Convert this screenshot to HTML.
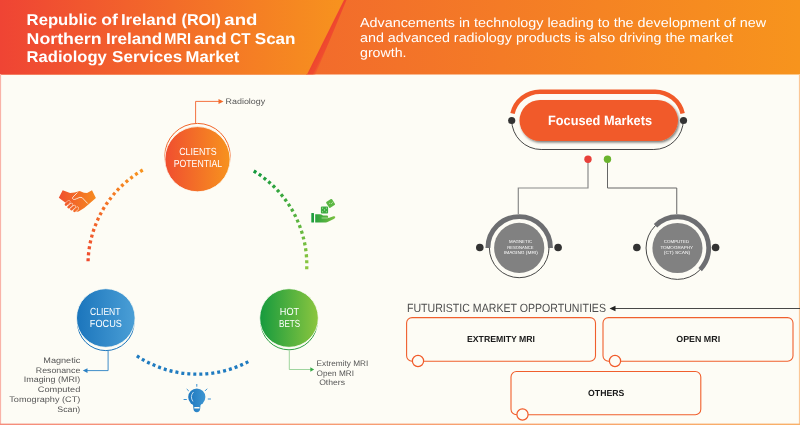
<!DOCTYPE html>
<html><head><meta charset="utf-8">
<style>
html,body{margin:0;padding:0;background:#fdfcf5;}
body{width:800px;height:425px;overflow:hidden;font-family:"Liberation Sans",sans-serif;}
svg{display:block;position:absolute;left:0;top:0;opacity:0.999;}
text{font-family:"Liberation Sans",sans-serif;text-rendering:geometricPrecision;}
</style></head><body>
<svg width="800" height="425" viewBox="0 0 800 425">
<defs>
<linearGradient id="gHdrL" x1="0" y1="0" x2="344" y2="0" gradientUnits="userSpaceOnUse"><stop offset="0" stop-color="#ef4434"/><stop offset="1" stop-color="#f7931e"/></linearGradient>
<linearGradient id="gHdrR" x1="300" y1="0" x2="800" y2="0" gradientUnits="userSpaceOnUse"><stop offset="0" stop-color="#f26a2c"/><stop offset="1" stop-color="#f7941d"/></linearGradient>
<linearGradient id="gBorder" x1="0" y1="0" x2="800" y2="0" gradientUnits="userSpaceOnUse"><stop offset="0" stop-color="#f58d7c"/><stop offset="1" stop-color="#f9b068"/></linearGradient>
<linearGradient id="gOr" x1="0" y1="0" x2="1" y2="0"><stop offset="0" stop-color="#f04e30"/><stop offset="1" stop-color="#f7931e"/></linearGradient>
<linearGradient id="gBl" x1="0" y1="0" x2="1" y2="0"><stop offset="0" stop-color="#1b75bc"/><stop offset="1" stop-color="#4b9fd6"/></linearGradient>
<linearGradient id="gGr" x1="0" y1="0" x2="1" y2="0"><stop offset="0" stop-color="#159a3e"/><stop offset="1" stop-color="#8cc63f"/></linearGradient>
<linearGradient id="gArcO" x1="88" y1="260" x2="142" y2="171" gradientUnits="userSpaceOnUse"><stop offset="0" stop-color="#ef4b2f"/><stop offset="1" stop-color="#f7931e"/></linearGradient>
<linearGradient id="gArcG" x1="255" y1="171" x2="307" y2="268" gradientUnits="userSpaceOnUse"><stop offset="0" stop-color="#159a3e"/><stop offset="1" stop-color="#8cc63f"/></linearGradient>
<linearGradient id="gStripe" x1="307" y1="74.5" x2="315" y2="78.5" gradientUnits="userSpaceOnUse"><stop offset="0" stop-color="#ee452f"/><stop offset="0.55" stop-color="#ef4a2e" stop-opacity="0.95"/><stop offset="1" stop-color="#f15a2d" stop-opacity="0"/></linearGradient>
<filter id="sh" x="-10%" y="-20%" width="125%" height="150%"><feDropShadow dx="1.2" dy="1.6" stdDeviation="0.9" flood-color="#000" flood-opacity="0.5"/></filter>
</defs>

<!-- background -->
<rect width="800" height="425" fill="#fdfcf5"/>
<!-- header -->
<rect x="0" y="0" width="800" height="74.5" fill="url(#gHdrR)"/>
<polygon points="306,74.5 315.5,74.5 346.5,0 343,0" fill="url(#gStripe)"/>
<polygon points="0,0 344,0 307,74.5 0,74.5" fill="url(#gHdrL)"/>
<!-- page border -->
<rect x="0" y="74" width="1.1" height="351" fill="#f9b3a8"/>
<rect x="798.9" y="74" width="1.1" height="351" fill="#fbc796"/>
<rect x="0" y="423.6" width="800" height="1.4" fill="url(#gBorder)"/>

<!-- header text -->
<g fill="#fff" font-weight="bold" font-size="15.8">
<text x="26.60" y="25.3" textLength="70.40" lengthAdjust="spacingAndGlyphs">Republic</text>
<text x="101.25" y="25.3" textLength="16.60" lengthAdjust="spacingAndGlyphs">of</text>
<text x="120.90" y="25.3" textLength="55.65" lengthAdjust="spacingAndGlyphs">Ireland</text>
<text x="181.50" y="25.3" textLength="39.50" lengthAdjust="spacingAndGlyphs">(ROI)</text>
<text x="224.35" y="25.3" textLength="33.05" lengthAdjust="spacingAndGlyphs">and</text>
<text x="26.60" y="43.8" textLength="74.95" lengthAdjust="spacingAndGlyphs">Northern</text>
<text x="106.10" y="43.8" textLength="56.20" lengthAdjust="spacingAndGlyphs">Ireland</text>
<text x="164.30" y="43.8" textLength="26.70" lengthAdjust="spacingAndGlyphs">MRI</text>
<text x="194.10" y="43.8" textLength="32.80" lengthAdjust="spacingAndGlyphs">and</text>
<text x="230.30" y="43.8" textLength="20.20" lengthAdjust="spacingAndGlyphs">CT</text>
<text x="254.75" y="43.8" textLength="40.80" lengthAdjust="spacingAndGlyphs">Scan</text>
<text x="26.60" y="62.2" textLength="80.15" lengthAdjust="spacingAndGlyphs">Radiology</text>
<text x="112.10" y="62.2" textLength="70.10" lengthAdjust="spacingAndGlyphs">Services</text>
<text x="185.60" y="62.2" textLength="53.70" lengthAdjust="spacingAndGlyphs">Market</text>
</g>
<g fill="#fff" font-size="13">
<text x="360" y="26.5" textLength="406" lengthAdjust="spacingAndGlyphs">Advancements in technology leading to the development of new</text>
<text x="360" y="41.5" textLength="373" lengthAdjust="spacingAndGlyphs">and advanced radiology products is also driving the market</text>
<text x="360" y="56.5" textLength="46.5" lengthAdjust="spacingAndGlyphs">growth.</text>
</g>

<!-- dotted arcs -->
<g fill="none" stroke-width="3.3" stroke-dasharray="3 3">
<path d="M 88.06 261.23 A 109.4 109.4 0 0 1 142.87 169.96" stroke="url(#gArcO)"/>
<path d="M 253.75 171.03 A 109.4 109.4 0 0 1 306.69 269.67" stroke="url(#gArcG)"/>
<path d="M 136.86 355.92 A 109.4 109.4 0 0 0 248.59 361.48" stroke="#1f7bc0"/>
</g>

<!-- orange circle -->
<circle cx="197.5" cy="156.1" r="32.7" fill="none" stroke="#f2652a" stroke-width="1"/>
<circle cx="197.5" cy="159.2" r="32.6" fill="url(#gOr)" stroke="#fdfcf5" stroke-width="0.8"/>
<path d="M 195.6 123.5 V 101.4 H 219" fill="none" stroke="#f2622b" stroke-width="0.9"/>
<polygon points="218.5,98.9 223.5,101.4 218.5,103.9" fill="#f26a2a"/>
<g fill="#fff" font-size="10.3" text-anchor="middle">
<text x="197.95" y="154.8" textLength="37.6" lengthAdjust="spacingAndGlyphs">CLIENTS</text>
<text x="197.9" y="166.9" textLength="48.4" lengthAdjust="spacingAndGlyphs">POTENTIAL</text>
</g>
<text x="225.6" y="104.2" font-size="8" fill="#555" textLength="39.6" lengthAdjust="spacingAndGlyphs">Radiology</text>

<!-- blue circle -->
<circle cx="105.8" cy="322.3" r="28.3" fill="none" stroke="#1b75bc" stroke-width="1"/>
<circle cx="105.8" cy="318.0" r="29.3" fill="url(#gBl)" stroke="#fdfcf5" stroke-width="0.8"/>
<path d="M 108.1 351 V 370.6 H 87" fill="none" stroke="#2a80c4" stroke-width="0.9"/>
<polygon points="87.5,368.2 82.8,370.6 87.5,373" fill="#2a80c4"/>
<g fill="#fff" font-size="10.3" text-anchor="middle">
<text x="105.3" y="314.9" textLength="30.4" lengthAdjust="spacingAndGlyphs">CLIENT</text>
<text x="105.85" y="326.9" textLength="32" lengthAdjust="spacingAndGlyphs">FOCUS</text>
</g>
<g fill="#555" font-size="8" text-anchor="end">
<text x="80.3" y="362.9" textLength="37" lengthAdjust="spacingAndGlyphs">Magnetic</text>
<text x="80.3" y="372.7" textLength="44.5" lengthAdjust="spacingAndGlyphs">Resonance</text>
<text x="80.3" y="382.4" textLength="56.5" lengthAdjust="spacingAndGlyphs">Imaging (MRI)</text>
<text x="80.3" y="392.1" textLength="42.5" lengthAdjust="spacingAndGlyphs">Computed</text>
<text x="80.3" y="401.8" textLength="71" lengthAdjust="spacingAndGlyphs">Tomography (CT)</text>
<text x="80.3" y="411.5" textLength="23" lengthAdjust="spacingAndGlyphs">Scan)</text>
</g>

<!-- green circle -->
<circle cx="289" cy="321.5" r="28.3" fill="none" stroke="#2ea043" stroke-width="1"/>
<circle cx="289" cy="318.0" r="29.3" fill="url(#gGr)" stroke="#fdfcf5" stroke-width="0.8"/>
<path d="M 289.3 350.5 V 369.5 H 311" fill="none" stroke="#6cc070" stroke-width="0.65"/>
<polygon points="310.3,367.3 314.2,369.5 310.3,371.7" fill="#3aaa48"/>
<g fill="#fff" font-size="10.3" text-anchor="middle">
<text x="289.45" y="315.1" textLength="19.3" lengthAdjust="spacingAndGlyphs">HOT</text>
<text x="289.65" y="327.1" textLength="21.1" lengthAdjust="spacingAndGlyphs">BETS</text>
</g>
<g fill="#555" font-size="8">
<text x="316.6" y="366.3" textLength="51.7" lengthAdjust="spacingAndGlyphs">Extremity MRI</text>
<text x="316.6" y="375.8" textLength="37.4" lengthAdjust="spacingAndGlyphs">Open MRI</text>
<text x="319.2" y="385" textLength="25.8" lengthAdjust="spacingAndGlyphs">Others</text>
</g>

<!-- ICONS placeholder -->
<g id="icons">
<!-- handshake -->
<linearGradient id="gHs" x1="59" y1="0" x2="96" y2="0" gradientUnits="userSpaceOnUse"><stop offset="0" stop-color="#f0502f"/><stop offset="1" stop-color="#f68b1f"/></linearGradient>
<path d="M 62.7 190.2 L 70.1 193.1 L 74.7 192.4 L 79.7 191.1 L 83.9 192.7 L 87.1 193.1 L 92 190.2 L 95.9 198 L 88.1 204.7 L 84.2 207.9 L 78.6 211.4 L 76.5 211.8 L 70.5 207 L 65.2 202.6 L 58.8 197.65 Z" fill="url(#gHs)"/>
<g stroke="#fdfcf5" stroke-width="3.4" stroke-linecap="round">
<line x1="66.0" y1="204.5" x2="68.7" y2="202.0"/>
<line x1="68.6" y1="207.2" x2="71.4" y2="204.6"/>
<line x1="71.4" y1="209.2" x2="74.2" y2="206.6"/>
<line x1="74.5" y1="210.9" x2="77.3" y2="208.3"/>
</g>
<g stroke="url(#gHs)" stroke-width="2.6" stroke-linecap="round">
<line x1="66.0" y1="204.5" x2="68.7" y2="202.0"/>
<line x1="68.6" y1="207.2" x2="71.4" y2="204.6"/>
<line x1="71.4" y1="209.2" x2="74.2" y2="206.6"/>
<line x1="74.5" y1="210.9" x2="77.3" y2="208.3"/>
</g>
<g stroke="#fdfcf5" stroke-width="0.8" fill="none" stroke-linecap="round" stroke-linejoin="round">
<path d="M 77.2 192.8 L 72.8 197.2 Q 71.9 198.7 73.3 199.3 Q 74.8 199.8 76.2 198.9 L 79.9 197.3 L 82.2 197.7 L 87.4 203.2"/>
</g>
<!-- dice hand -->
<linearGradient id="gDh" x1="311" y1="0" x2="336" y2="0" gradientUnits="userSpaceOnUse"><stop offset="0" stop-color="#199b3d"/><stop offset="1" stop-color="#7fc241"/></linearGradient>
<rect x="311.3" y="213" width="2.7" height="9.6" rx="0.5" fill="#1f9e3e"/>
<path d="M 315.2 214.3 H 319.5 Q 321.5 214.3 323 215.4 L 327.3 215.6 Q 328.6 216 328 217.4 L 328.6 217.9 L 333.5 216.3 Q 335.3 216 335.3 217.3 Q 335 218.3 333.8 219 L 327 222.2 Q 325.5 222.7 324 222.6 H 315.2 Z" fill="url(#gDh)"/>
<path d="M 321.6 218 H 327.9" stroke="#a8dc98" stroke-width="0.9" fill="none"/>
<rect x="320.9" y="206.4" width="7.2" height="7" rx="1" fill="#3dab42"/>
<g fill="#c8ecb4"><circle cx="322.6" cy="208.1" r="0.55"/><circle cx="326.4" cy="208.1" r="0.55"/><circle cx="324.5" cy="209.9" r="0.55"/><circle cx="322.6" cy="211.7" r="0.55"/><circle cx="326.4" cy="211.7" r="0.55"/></g>
<rect x="327.1" y="199.9" width="7" height="7" rx="1" fill="#5cb744" transform="rotate(-32 330.6 203.4)"/>
<g fill="#c8ecb4"><circle cx="329.7" cy="203.2" r="0.5"/><circle cx="331.4" cy="203.6" r="0.5"/><circle cx="332.6" cy="202.2" r="0.5"/></g>
<!-- bulb -->
<linearGradient id="gBu" x1="188" y1="0" x2="206" y2="0" gradientUnits="userSpaceOnUse"><stop offset="0" stop-color="#1c76bd"/><stop offset="1" stop-color="#3f97d3"/></linearGradient>
<circle cx="196.8" cy="397.1" r="8.6" fill="url(#gBu)"/>
<path d="M 192.9 403 H 200.7 L 200.2 408.5 Q 199.9 412.3 196.8 412.3 Q 193.7 412.3 193.4 408.5 Z" fill="url(#gBu)"/>
<rect x="194.2" y="406.9" width="5.4" height="1.7" rx="0.5" fill="#fdfcf5"/>
<path d="M 193.2 392.3 Q 189.6 396.5 192.7 401.1" stroke="#e6f1fa" stroke-width="0.8" fill="none" stroke-linecap="round"/>
<g stroke="#3a8fd0" stroke-width="1" stroke-linecap="round">
<line x1="196.8" y1="384.4" x2="196.8" y2="386.3"/>
<line x1="187.0" y1="389.3" x2="188.5" y2="390.7"/>
<line x1="206.9" y1="389.0" x2="205.3" y2="390.6"/>
<line x1="184" y1="399.5" x2="186.4" y2="399.5"/>
<line x1="208.2" y1="399" x2="210.5" y2="399"/>
</g>
</g>

<!-- Focused Markets -->
<path d="M 512.51 113.5 A 28.25 28.25 0 0 1 540 91.75 H 655.15 A 28.25 28.25 0 0 1 682.64 113.5" fill="none" stroke="#f15a29" stroke-width="4.5"/>
<path d="M 511.7 120 A 29.5 29.5 0 0 0 541.2 149.5 H 653.8 A 29.5 29.5 0 0 0 683.3 120" fill="none" stroke="#333" stroke-width="0.9"/>
<rect x="519.5" y="100" width="158.5" height="41" rx="20.5" fill="#f15a29" filter="url(#sh)"/>
<circle cx="511.7" cy="120.5" r="3.6" fill="#333"/>
<circle cx="683.5" cy="120.5" r="3.6" fill="#333"/>
<text x="548" y="124.8" font-size="13.4" font-weight="bold" fill="#fff" textLength="104" lengthAdjust="spacingAndGlyphs">Focused Markets</text>

<!-- connectors -->
<path d="M 588 162 V 188 H 518.3 V 214" fill="none" stroke="#8a8a8a" stroke-width="1.2"/>
<path d="M 607.5 162 V 188 H 676.75 V 214" fill="none" stroke="#666" stroke-width="1"/>
<circle cx="588" cy="159.3" r="3.7" fill="#e8403a"/>
<circle cx="607.5" cy="159.3" r="3.7" fill="#6ab42d"/>

<!-- MRI circle -->
<path d="M 489.4 247.9 A 29.8 29.8 0 0 0 549 247.9" fill="none" stroke="#333" stroke-width="0.9"/>
<path d="M 487.9 247.9 A 31.3 31.3 0 0 1 550.5 247.9" fill="none" stroke="#6d6e71" stroke-width="4.9"/>
<circle cx="519.2" cy="247.9" r="25.1" fill="#818181"/>
<circle cx="479.8" cy="247.5" r="3.8" fill="#333"/>
<circle cx="558.1" cy="247.5" r="3.8" fill="#333"/>
<g fill="#fff" font-size="4.4" text-anchor="middle">
<text x="520.55" y="243" textLength="23.1" lengthAdjust="spacingAndGlyphs">MAGNETIC</text>
<text x="520.45" y="248.6" textLength="26.2" lengthAdjust="spacingAndGlyphs">RESONANCE</text>
<text x="520.85" y="254.3" textLength="33.9" lengthAdjust="spacingAndGlyphs">IMAGING (MRI)</text>
</g>

<!-- CT circle -->
<circle cx="677.45" cy="248" r="31.4" fill="none" stroke="#333" stroke-width="0.9"/>
<path d="M 655.51 225.68 A 31.3 31.3 0 0 1 700.15 269.55" fill="none" stroke="#6d6e71" stroke-width="4.8"/>
<circle cx="677.45" cy="248" r="25.05" fill="#818181"/>
<circle cx="636.85" cy="247.5" r="3.8" fill="#333"/>
<circle cx="715.6" cy="247.5" r="3.8" fill="#333"/>
<g fill="#fff" font-size="4.4" text-anchor="middle">
<text x="676.5" y="243" textLength="25.4" lengthAdjust="spacingAndGlyphs">COMPUTED</text>
<text x="676.7" y="248.6" textLength="32.6" lengthAdjust="spacingAndGlyphs">TOMOGRAPHY</text>
<text x="677" y="254.4" textLength="26.3" lengthAdjust="spacingAndGlyphs">(CT) SCAN)</text>
</g>

<!-- Futuristic -->
<text x="407" y="312.4" font-size="11.9" fill="#4d4d4d" textLength="199" lengthAdjust="spacingAndGlyphs">FUTURISTIC MARKET OPPORTUNITIES</text>
<path d="M 800 308.5 H 614" fill="none" stroke="#333" stroke-width="0.9"/>
<polygon points="615.5,305.8 609.5,308.5 615.5,311.2" fill="#222"/>

<g fill="none" stroke="#f05f2d" stroke-width="1.1">
<rect x="406.6" y="317.6" width="188.9" height="43.6" rx="5.5"/>
<rect x="603" y="317.6" width="190" height="43.6" rx="5.5"/>
<rect x="511" y="371.5" width="189.8" height="43.3" rx="5.5"/>
</g>
<g fill="#fdfcf5" stroke="#f15a29" stroke-width="1.2">
<circle cx="418" cy="361" r="5.6"/>
<circle cx="615" cy="361" r="5.6"/>
<circle cx="522.5" cy="414.5" r="5.6"/>
</g>
<g fill="#1a1a1a" font-size="8.9" font-weight="bold" text-anchor="middle">
<text x="501" y="342.3" textLength="68" lengthAdjust="spacingAndGlyphs">EXTREMITY MRI</text>
<text x="698.2" y="342.3" textLength="43.8" lengthAdjust="spacingAndGlyphs">OPEN MRI</text>
<text x="606.2" y="396.3" textLength="36.2" lengthAdjust="spacingAndGlyphs">OTHERS</text>
</g>
</svg>
</body></html>
